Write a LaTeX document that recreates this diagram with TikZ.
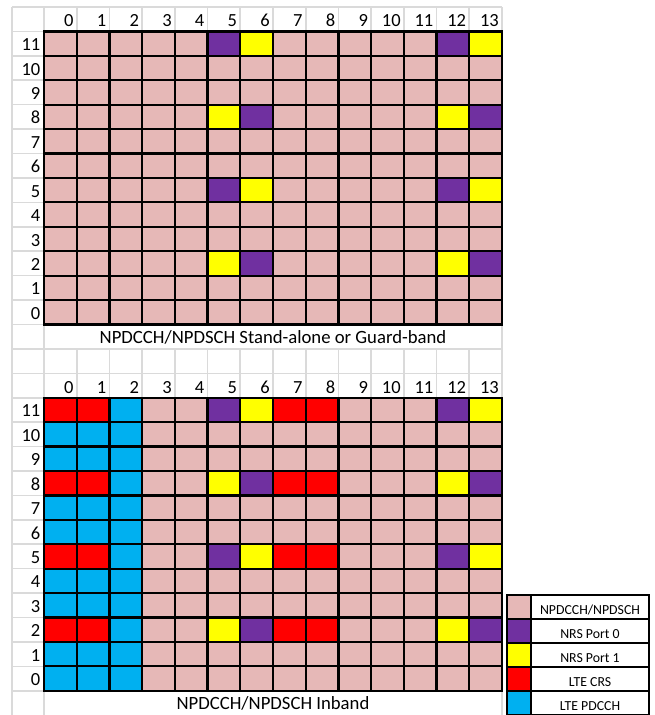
\documentclass[tikz,border=0pt]{standalone}
\usepackage{fontspec}
\setmainfont{Carlito}
\usepackage{xcolor}
\definecolor{datapink}{HTML}{E6B8B7}
\definecolor{nrspurple}{HTML}{7030A0}
\definecolor{nrsyellow}{HTML}{FFFF00}
\definecolor{crsred}{HTML}{FF0000}
\definecolor{pdcchblue}{HTML}{00B0F0}
\definecolor{sheetgray}{HTML}{DADADA}
\tikzstyle{re} = [draw=black, line width=2.2pt]
\tikzstyle{sheet} = [draw=sheetgray, line width=1.6pt]
\tikzstyle{idx} = [anchor=base east, inner sep=0pt, font=\fontsize{18.5}{20}\selectfont]
\tikzstyle{gridtitle} = [anchor=base, inner sep=0pt, font=\fontsize{18.7}{20}\selectfont]
\tikzstyle{legendtext} = [anchor=base, inner sep=0pt, font=\fontsize{13.8}{15}\selectfont]
\newcommand{\colw}{32.714}
\newcommand{\rowh}{24.42}
% one resource element: column, symbol row, colour
\newcommand{\recell}[3]{\filldraw[re, fill=#3] ({(#1)*\colw},{(11-(#2))*\rowh}) rectangle ++(\colw,\rowh);}

\begin{document}
\begin{tikzpicture}[x=1pt, y=-1pt]
    \useasboundingbox (0,0) rectangle (655,715);

    % spreadsheet gridlines
    \foreach \k in {0,...,28}
        \draw[sheet] (12,{7+\k*\rowh}) -- (502,{7+\k*\rowh});
    \foreach \x in {12,44,502}
        \draw[sheet] (\x,7) -- (\x,715);
    \foreach \cn in {1,...,13} {
        \draw[sheet] ({44+\cn*\colw},7) -- ({44+\cn*\colw},{7+13*\rowh});
        \draw[sheet] ({44+\cn*\colw},{7+14*\rowh}) -- ({44+\cn*\colw},{7+28*\rowh});
    }

    % stand-alone / guard-band
    \begin{scope}[shift={(44,{7+\rowh})}]
        \foreach \rn in {0,...,11} {
            \foreach \cn in {0,...,13} {\recell{\cn}{\rn}{datapink}}
        }
        \foreach \rn in {11,5} {
            \foreach \cn in {5,12} {
                \recell{\cn}{\rn}{nrspurple}
                \recell{\cn+1}{\rn}{nrsyellow}
            }
        }
        \foreach \rn in {8,2} {
            \foreach \cn in {5,12} {
                \recell{\cn}{\rn}{nrsyellow}
                \recell{\cn+1}{\rn}{nrspurple}
            }
        }
    \end{scope}
    \foreach \cn in {0,...,13}
        \node[idx] (colA-\cn) at ({44+(\cn+1)*\colw-3},{7+\rowh-5}) {\cn};
    \foreach \rn in {0,...,11}
        \node[idx] (rowA-\rn) at (40.5,{7+(13-\rn)*\rowh-5.2}) {\rn};
    \node[gridtitle] (titleA) at (273,{7+14*\rowh-5.2}) {NPDCCH/NPDSCH Stand-alone or Guard-band};

    % inband
    \begin{scope}[shift={(44,{7+16*\rowh})}]
        \foreach \rn in {0,...,11} {
            \foreach \cn in {0,1,2} {\recell{\cn}{\rn}{pdcchblue}}
            \foreach \cn in {3,...,13} {\recell{\cn}{\rn}{datapink}}
        }
        \foreach \rn in {11,8,5,2} {
            \foreach \cn in {0,1,7,8} {\recell{\cn}{\rn}{crsred}}
        }
        \foreach \rn in {11,5} {
            \foreach \cn in {5,12} {
                \recell{\cn}{\rn}{nrspurple}
                \recell{\cn+1}{\rn}{nrsyellow}
            }
        }
        \foreach \rn in {8,2} {
            \foreach \cn in {5,12} {
                \recell{\cn}{\rn}{nrsyellow}
                \recell{\cn+1}{\rn}{nrspurple}
            }
        }
    \end{scope}
    \foreach \cn in {0,...,13}
        \node[idx] (colB-\cn) at ({44+(\cn+1)*\colw-3},{7+16*\rowh-4.5}) {\cn};
    \foreach \rn in {0,...,11}
        \node[idx] (rowB-\rn) at (40.5,{7+(28-\rn)*\rowh-5.2}) {\rn};
    \node[gridtitle] (titleB) at (273,{7+29*\rowh-5.2}) {NPDCCH/NPDSCH Inband};

    % legend
    \foreach \kn/\clr/\txt in {0/datapink/{NPDCCH/NPDSCH}, 1/nrspurple/NRS Port 0,
                               2/nrsyellow/NRS Port 1, 3/crsred/LTE CRS, 4/pdcchblue/LTE PDCCH} {
        \filldraw[re, fill=\clr] (507,{595+\kn*24}) rectangle (531,{619+\kn*24});
        \draw[re] (531,{595+\kn*24}) rectangle (649,{619+\kn*24});
        \node[legendtext] (key-\kn) at (590,{614+\kn*24}) {\txt};
    }
\end{tikzpicture}
\end{document}
